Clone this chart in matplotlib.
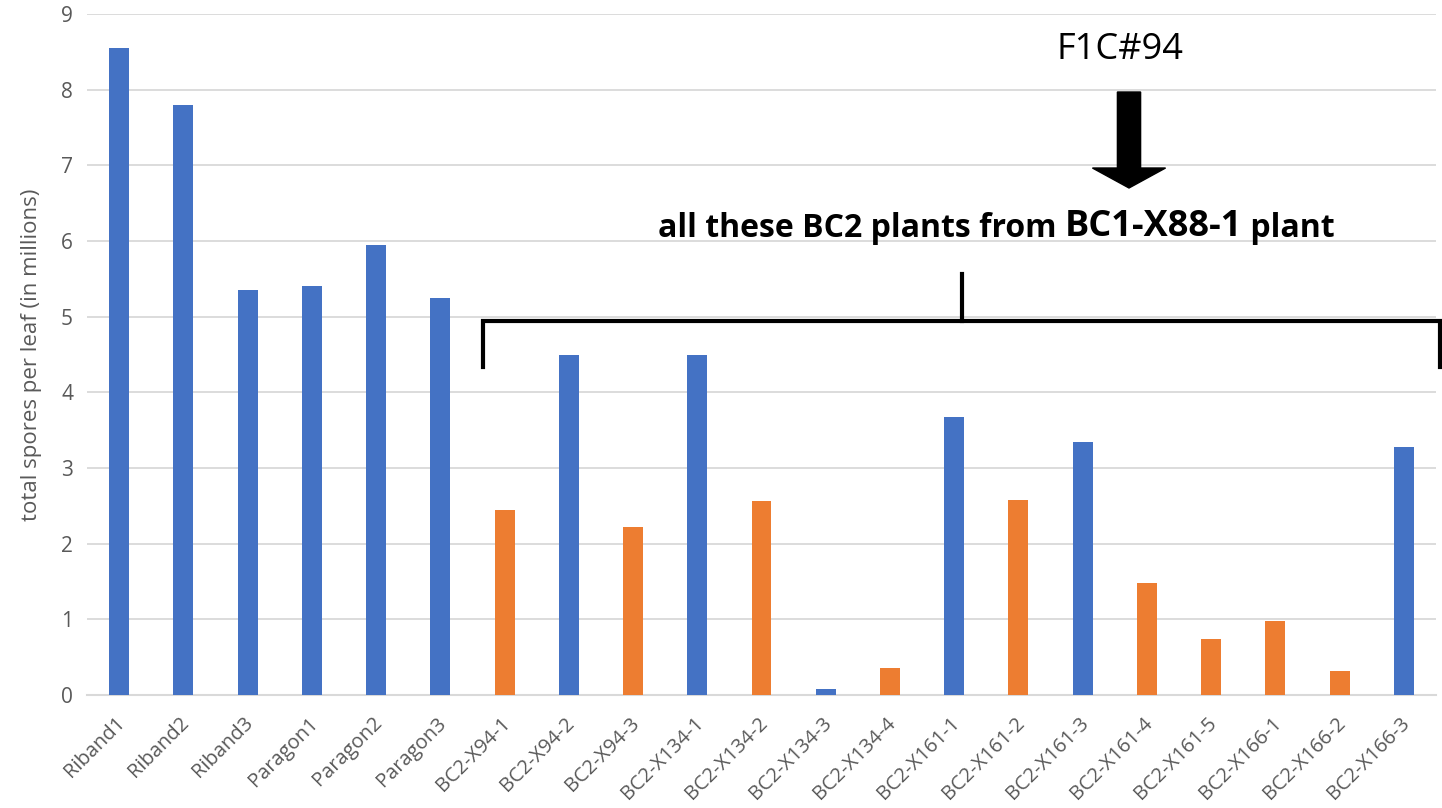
import matplotlib
matplotlib.use('Agg')
from matplotlib import pyplot as plt
from matplotlib import transforms
from matplotlib.patches import FancyArrow

plt.rcParams['font.family'] = ['Open Sans', 'DejaVu Sans']

plants = ['Riband1', 'Riband2', 'Riband3', 'Paragon1', 'Paragon2', 'Paragon3',
          'BC2-X94-1', 'BC2-X94-2', 'BC2-X94-3', 'BC2-X134-1', 'BC2-X134-2',
          'BC2-X134-3', 'BC2-X134-4', 'BC2-X161-1', 'BC2-X161-2', 'BC2-X161-3',
          'BC2-X161-4', 'BC2-X161-5', 'BC2-X166-1', 'BC2-X166-2', 'BC2-X166-3']
spores = [8.55, 7.8, 5.35, 5.4, 5.95, 5.25,
          2.45, 4.5, 2.22, 4.5, 2.57,
          0.08, 0.36, 3.68, 2.58, 3.35,
          1.48, 0.74, 0.98, 0.32, 3.28]
# 'b' = susceptible-like, 'o' = resistant-like
group = ['b', 'b', 'b', 'b', 'b', 'b',
         'o', 'b', 'o', 'b', 'o',
         'b', 'o', 'b', 'o', 'b',
         'o', 'o', 'o', 'o', 'b']
yticks = list(range(0, 10))

colors = {'b': '#4472C4', 'o': '#ED7D31'}
grey = '#595959'

fig = plt.figure(figsize=(14.42, 8.08), dpi=100)
ax = fig.add_axes([87 / 1442, 1 - 695 / 808, (1436 - 87) / 1442, (695 - 14) / 808])

x = list(range(len(plants)))
ax.bar(x, spores, width=0.31, color=[colors[g] for g in group], zorder=3)

ax.set_xlim(-0.5, len(plants) - 0.5)
ax.set_ylim(0, 9)
ax.set_yticks(yticks)
ax.set_yticklabels([str(t) for t in yticks], fontsize=15, color=grey)
ax.set_xticks(x)
ax.set_xticklabels(plants, rotation=45, ha='right', rotation_mode='anchor',
                   fontsize=14.5, color=grey)
ax.tick_params(axis='both', length=0)
ax.tick_params(axis='y', pad=10)
ax.tick_params(axis='x', pad=13)
shift = transforms.ScaledTranslation(-4 / 100, 0, fig.dpi_scale_trans)
for lbl in ax.get_xticklabels():
    lbl.set_transform(lbl.get_transform() + shift)
ax.grid(axis='y', color='#D9D9D9', linewidth=1.3, zorder=0)
for s in ['top', 'right', 'left']:
    ax.spines[s].set_visible(False)
ax.spines['bottom'].set_color('#D9D9D9')
ax.spines['bottom'].set_linewidth(1.5)
ax.spines['bottom'].set_zorder(1)
ax.set_ylabel('total spores per leaf (in millions)', fontsize=16, color=grey)
ax.yaxis.set_label_coords(-0.033, 0.5)

# figure-pixel helpers for the annotations drawn over the chart
def fx(px):
    return px / 1442

def fy(py):
    return 1 - py / 808

# bracket over the BC2 plants
lw = 3
fig.add_artist(plt.Line2D([fx(483), fx(483), fx(1440), fx(1440)],
                          [fy(367), fy(321), fy(321), fy(367)],
                          color='black', linewidth=lw, solid_joinstyle='miter'))
fig.add_artist(plt.Line2D([fx(962), fx(962)], [fy(321), fy(274)],
                          color='black', linewidth=lw))

# arrow pointing at the F1C#94 parent
fig.add_artist(FancyArrow(fx(1129), fy(92), 0, fy(188) - fy(92),
                          width=13 / 808, head_width=41 / 808,
                          head_length=20 / 808, length_includes_head=True,
                          color='black', transform=fig.transFigure))
fig.text(fx(1120), fy(50), 'F1C#94', fontsize=26, ha='center', va='center')

t1 = fig.text(fx(658), fy(237), 'all these BC2 plants from ', fontsize=23,
              fontweight='bold', ha='left', va='baseline')
t2 = ax.annotate('BC1-X88-1', xy=(1, 0), xycoords=t1, fontsize=26,
                 fontweight='bold', ha='left', va='bottom')
ax.annotate(' plant', xy=(1, 0), xycoords=t2, fontsize=23,
            fontweight='bold', ha='left', va='bottom')

fig.savefig('out.png', dpi=100)
